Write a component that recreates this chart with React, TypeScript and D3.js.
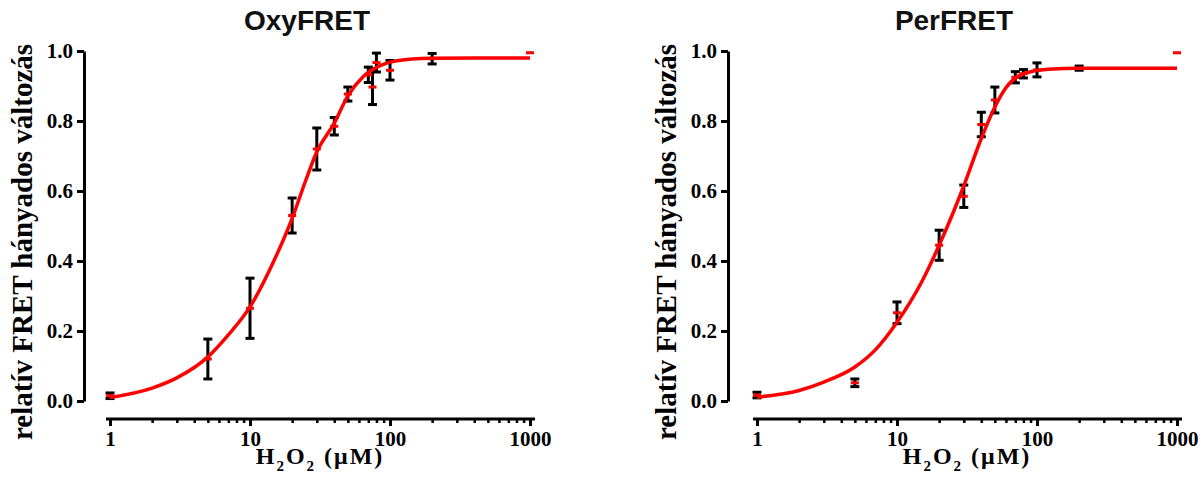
import React, { useEffect, useRef } from "react";
import * as d3 from "d3";

// OxyFRET measured points (H2O2 uM, mean, SEM)
const oxyX = [1, 5, 10, 20, 30, 40, 50, 70, 75, 80, 100, 200, 1000];
const oxyMean = [0.015, 0.12, 0.265, 0.53, 0.72, 0.785, 0.877, 0.932, 0.897, 0.967, 0.945, 0.978, 0.995];
const oxyErr = [0.008, 0.057, 0.086, 0.05, 0.06, 0.025, 0.02, 0.022, 0.05, 0.027, 0.028, 0.015, 0];
// OxyFRET fitted curve
const oxyFitX = [1, 2, 3, 5, 7, 10, 15, 20, 25, 30, 40, 50, 64, 85, 112, 193, 400, 1000];
const oxyFitY = [0.01, 0.037, 0.066, 0.126, 0.189, 0.269, 0.405, 0.522, 0.63, 0.712, 0.794, 0.872, 0.926, 0.958, 0.972, 0.979, 0.98, 0.98];

// PerFRET measured points
const perX = [1, 5, 10, 20, 30, 40, 50, 70, 80, 100, 200, 1000];
const perMean = [0.017, 0.052, 0.252, 0.445, 0.585, 0.79, 0.86, 0.925, 0.935, 0.946, 0.951, 0.995];
const perErr = [0.008, 0.011, 0.031, 0.043, 0.032, 0.035, 0.037, 0.016, 0.012, 0.02, 0.006, 0];
// PerFRET fitted curve
const perFitX = [1, 2, 3, 5, 7, 10, 15, 20, 25, 30, 40, 50, 60, 80, 120, 200, 1000];
const perFitY = [0.011, 0.03, 0.054, 0.097, 0.146, 0.225, 0.34, 0.445, 0.535, 0.615, 0.75, 0.84, 0.895, 0.935, 0.948, 0.951, 0.951];

const yTicks = [0, 0.2, 0.4, 0.6, 0.8, 1.0];
const xMajor = [1, 10, 100, 1000];
const xMinor = [2, 3, 4, 5, 6, 7, 8, 9, 20, 30, 40, 50, 60, 70, 80, 90, 200, 300, 400, 500, 600, 700, 800, 900];

const yTitle = "relatív FRET hányados változás";

const panels = [
  { title: "OxyFRET", xs: oxyX, mean: oxyMean, err: oxyErr, fitX: oxyFitX, fitY: oxyFitY, left: 110, axisX: 84, titleX: 307 },
  { title: "PerFRET", xs: perX, mean: perMean, err: perErr, fitX: perFitX, fitY: perFitY, left: 757, axisX: 728, titleX: 954 },
];

const serif = "'Liberation Serif', 'Times New Roman', serif";
const sans = "'Liberation Sans', Arial, sans-serif";

const App = () => {
  const svgRef = useRef<SVGSVGElement>(null);

  useEffect(() => {
    const svg = d3.select(svgRef.current);
    svg.selectAll("*").remove();

    panels.forEach(p => {
      const g = svg.append("g");
      const x = d3.scaleLog().domain([1, 1000]).range([p.left, p.left + 420]);
      const y = d3.scaleLinear().domain([0, 1]).range([401, 51]);
      const xAxisY = 419;

      // Y AXIS
      const yAxis = d3.axisLeft(y).tickValues(yTicks).tickFormat(d3.format(".1f")).tickSize(7).tickSizeOuter(0).tickPadding(4);
      const ya = g.append("g").attr("transform", `translate(${p.axisX},0)`).call(yAxis);
      ya.select(".domain").attr("stroke", "#000").attr("stroke-width", 3);
      ya.selectAll(".tick line").attr("stroke", "#000").attr("stroke-width", 3);
      ya.selectAll(".tick text")
        .attr("fill", "#000")
        .style("font-family", serif)
        .style("font-weight", "bold")
        .style("font-size", "21px");

      // X AXIS
      g.append("line")
        .attr("x1", x(1) - 4).attr("x2", x(1000) + 5)
        .attr("y1", xAxisY).attr("y2", xAxisY)
        .attr("stroke", "#000").attr("stroke-width", 3);
      const minor = d3.axisBottom(x).tickValues(xMinor).tickFormat(() => "").tickSize(4).tickSizeOuter(0);
      const mi = g.append("g").attr("transform", `translate(0,${xAxisY})`).call(minor);
      mi.select(".domain").remove();
      mi.selectAll(".tick line").attr("stroke", "#000").attr("stroke-width", 2.5);
      const major = d3.axisBottom(x).tickValues(xMajor).tickFormat(d3.format("d")).tickSize(7).tickSizeOuter(0).tickPadding(5);
      const ma = g.append("g").attr("transform", `translate(0,${xAxisY})`).call(major);
      ma.select(".domain").remove();
      ma.selectAll(".tick line").attr("stroke", "#000").attr("stroke-width", 3);
      ma.selectAll(".tick text")
        .attr("fill", "#000")
        .style("font-family", serif)
        .style("font-weight", "bold")
        .style("font-size", "21px");

      // ERROR BARS
      const pts = p.xs.map((v, i) => ({ x: v, m: p.mean[i], e: p.err[i] }));
      const bars = g.append("g").attr("stroke", "#000").attr("stroke-width", 3);
      pts.filter(d => d.e > 0).forEach(d => {
        const cx = x(d.x);
        const top = y(d.m + d.e);
        const bot = y(d.m - d.e);
        bars.append("line").attr("x1", cx).attr("x2", cx).attr("y1", top).attr("y2", bot);
        bars.append("line").attr("x1", cx - 4.5).attr("x2", cx + 4.5).attr("y1", top).attr("y2", top);
        bars.append("line").attr("x1", cx - 4.5).attr("x2", cx + 4.5).attr("y1", bot).attr("y2", bot);
      });

      // MEAN MARKERS
      g.append("g")
        .selectAll("rect")
        .data(pts)
        .join("rect")
        .attr("x", d => x(d.x) - 4)
        .attr("y", d => y(d.m) - 1.5)
        .attr("width", 8)
        .attr("height", 3)
        .attr("fill", "#ff0000");

      // FIT
      const line = d3.line<number>()
        .x((d, i) => x(p.fitX[i]))
        .y(d => y(d))
        .curve(d3.curveMonotoneX);
      g.append("path")
        .attr("d", line(p.fitY))
        .attr("fill", "none")
        .attr("stroke", "#ff0000")
        .attr("stroke-width", 3.5);

      // TITLES
      g.append("text")
        .attr("x", p.titleX).attr("y", 30)
        .attr("text-anchor", "middle")
        .style("font-family", sans).style("font-weight", "bold").style("font-size", "28px")
        .attr("fill", "#111")
        .text(p.title);

      g.append("text")
        .attr("transform", `translate(${p.axisX - 52},242) rotate(-90)`)
        .attr("text-anchor", "middle")
        .style("font-family", serif).style("font-weight", "bold").style("font-size", "29px")
        .text(yTitle);

      const xt = g.append("text")
        .attr("x", p.left + 210).attr("y", 464)
        .attr("text-anchor", "middle")
        .style("letter-spacing", "2px")
        .style("font-family", serif).style("font-weight", "bold").style("font-size", "24px");
      xt.append("tspan").text("H");
      xt.append("tspan").attr("dy", 7).style("font-size", "15px").text("2");
      xt.append("tspan").attr("dy", -7).text("O");
      xt.append("tspan").attr("dy", 7).style("font-size", "15px").text("2");
      xt.append("tspan").attr("dy", -7).text(" (μM)");
    });
  }, []);

  return (
    <svg ref={svgRef} width={1203} height={480} style={{ position: "absolute", left: 0, top: 0, background: "#fff" }} />
  );
};

export default App;
